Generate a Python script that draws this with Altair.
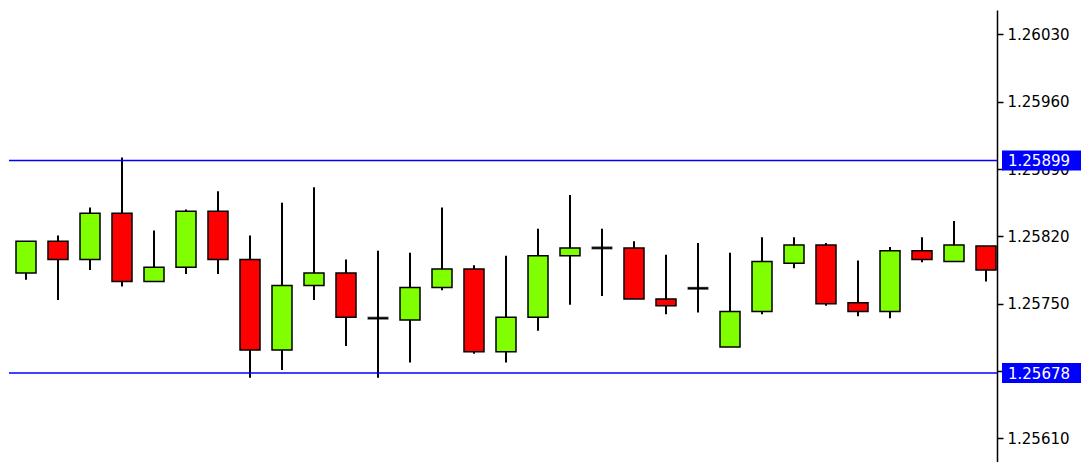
import altair as alt
import pandas as pd

# Candle data (price in 1e-5 units)
opens  = [125782, 125815, 125796, 125844, 125773, 125788, 125846, 125796, 125702, 125769,
          125782, 125735, 125733, 125767, 125786, 125700, 125736, 125800, 125808, 125808,
          125755, 125766, 125705, 125742, 125792, 125811, 125751, 125742, 125805, 125794,
          125810]
closes = [125815, 125796, 125844, 125773, 125788, 125846, 125796, 125702, 125769, 125782,
          125736, 125735, 125767, 125786, 125700, 125736, 125800, 125808, 125808, 125755,
          125748, 125766, 125742, 125794, 125811, 125750, 125742, 125805, 125796, 125811,
          125785]
highs  = [125815, 125821, 125850, 125902, 125826, 125848, 125867, 125821, 125855, 125871,
          125796, 125805, 125803, 125850, 125790, 125800, 125828, 125863, 125828, 125815,
          125801, 125813, 125803, 125819, 125819, 125813, 125795, 125809, 125819, 125836,
          125810]
lows   = [125775, 125754, 125785, 125768, 125773, 125781, 125781, 125673, 125681, 125754,
          125706, 125673, 125689, 125764, 125698, 125689, 125722, 125749, 125758, 125755,
          125739, 125741, 125705, 125739, 125787, 125748, 125737, 125735, 125793, 125794,
          125773]

levels = [1.25899, 1.25678]
level_labels = ["1.25899", "1.25678"]
tick_values = [1.26030, 1.25960, 1.25890, 1.25820, 1.25750, 1.25680, 1.25610]

n = len(opens)
df = pd.DataFrame({
    "i": list(range(n)),
    "open": [v / 1e5 for v in opens],
    "close": [v / 1e5 for v in closes],
    "high": [v / 1e5 for v in highs],
    "low": [v / 1e5 for v in lows],
})
df["dir"] = ["up" if c > o else ("down" if c < o else "flat") for o, c in zip(df["open"], df["close"])]

lv = pd.DataFrame({"level": levels, "label": level_labels})

xs = alt.Scale(domain=[-0.53125, 30.34375], nice=False, zero=False, padding=0)
ys = alt.Scale(domain=[1.255855, 1.260553], nice=False, zero=False, padding=0)

x = alt.X("i:Q", scale=xs, axis=None)
yaxis = alt.Axis(orient="right", values=tick_values, format=".5f", grid=False,
                 labelFont="DejaVu Sans", labelFontSize=15, labelColor="#000000",
                 domainColor="#000000", domainWidth=1.5, tickColor="#000000",
                 tickSize=6, tickWidth=1.5, labelPadding=4, title=None)

base = alt.Chart(df)

wicks = base.mark_rule(color="#000000", strokeWidth=2).encode(
    x=x,
    y=alt.Y("low:Q", scale=ys, axis=yaxis),
    y2="high:Q",
)

bodies = base.mark_bar(size=20, stroke="#000000", strokeWidth=1.5).encode(
    x=x,
    y=alt.Y("open:Q", scale=ys),
    y2="close:Q",
    color=alt.Color("dir:N", scale=alt.Scale(domain=["up", "down", "flat"],
                                             range=["#7FFF00", "#FF0000", "#000000"]),
                    legend=None),
)

doji = base.transform_filter(alt.datum.dir == "flat").mark_tick(
    orient="horizontal", thickness=3, size=21, color="#000000").encode(
    x=x,
    y=alt.Y("open:Q", scale=ys),
)

lines = alt.Chart(lv).mark_rule(color="#0000FF", strokeWidth=1.5).encode(
    y=alt.Y("level:Q", scale=ys),
)

boxes = alt.Chart(lv).mark_rect(color="#0000FF", yOffset=-10, y2Offset=10).encode(
    x=alt.value(993), x2=alt.value(1072),
    y=alt.Y("level:Q", scale=ys), y2="level:Q",
)

box_text = alt.Chart(lv).mark_text(align="left", baseline="middle", color="#FFFFFF",
                                   font="DejaVu Sans", fontSize=15, dy=1).encode(
    x=alt.value(999),
    y=alt.Y("level:Q", scale=ys),
    text="label:N",
)

chart = alt.layer(wicks, bodies, doji, lines, boxes, box_text).properties(
    width=988, height=452,
    padding={"left": 0, "top": 2, "right": 0, "bottom": 0},
    background="#FFFFFF",
).configure_view(strokeWidth=0)

chart.save("out.html", embed_options={"renderer": "svg", "actions": False})
